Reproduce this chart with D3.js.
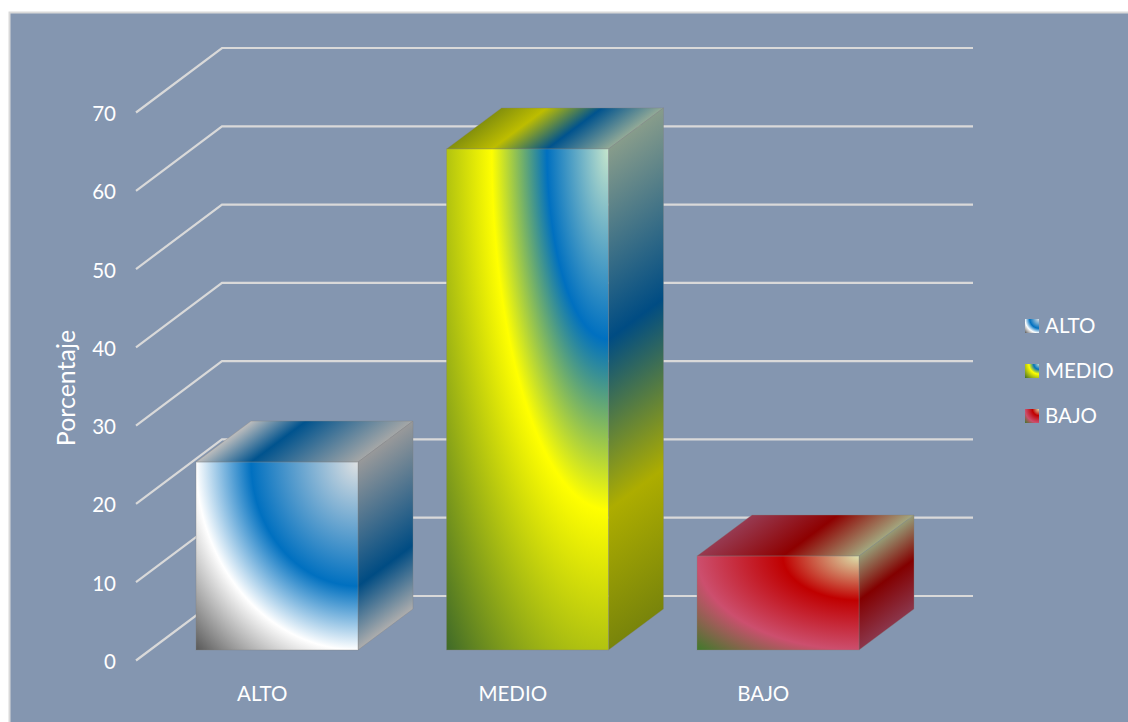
<!DOCTYPE html>
<html lang="es">
<head>
<meta charset="utf-8">
<title>Porcentaje por nivel</title>
<script src="https://cdn.jsdelivr.net/npm/d3@7"></script>
<style>
  html, body { margin: 0; padding: 0; background: #fff; }
  svg { display: block; }
  text { font-family: Lato, "Open Sans", sans-serif; fill: #fff; }
</style>
</head>
<body>
<svg id="chart" width="1128" height="722"></svg>
<script>
// Data
const categories = ["ALTO", "MEDIO", "BAJO"];
const percentages = [24, 64, 12];
const tickValues = [0, 10, 20, 30, 40, 50, 60, 70];
const axisTitle = "Porcentaje";

// Gradient ramps, measured outward from each face's top-right corner
const rampOffsets = [
  [0, 0.66, 1, Math.SQRT2],
  [0, 0.38, 0.72, Math.SQRT2],
  [0, 0.47, 1, Math.SQRT2]
];
const rampColors = [
  ["#dfe1e2", "#0070c0", "#ffffff", "#585858"],
  ["#c6e6cc", "#0070c0", "#ffff00", "#3f6a28"],
  ["#dce2ac", "#c00000", "#cc4f6e", "#3f7a2a"]
];

const width = 1128, height = 722;
const svg = d3.select("#chart");
const defs = svg.append("defs");

// Wall projection: the front edge of the floor sits at the axis, the back wall is offset
const y = d3.scaleLinear().domain([0, 70]).range([660.5, 112.5]);
const x = d3.scaleBand().domain(categories).range([136, 887.5]);
const wallDx = 86, wallDy = -64.5, wallRight = 973;

// Bar box geometry relative to its category band
const barInset = 60, barWidth = 162, floorLift = 10.5, depthDx = 55, depthDy = -41;
const topShade = 0.74, sideShade = 0.68;

const shade = (c, k) => {
  const r = d3.rgb(c);
  return d3.rgb(r.r * k, r.g * k, r.b * k).formatHex();
};

function addStops(grad, i, k, scale) {
  grad.selectAll("stop")
    .data(d3.zip(rampOffsets[i], rampColors[i]))
    .join("stop")
    .attr("offset", d => d[0] / scale)
    .attr("stop-color", d => shade(d[1], k));
}

// Panel
svg.append("rect")
  .attr("x", 9.5).attr("y", 12.5)
  .attr("width", width).attr("height", height)
  .attr("fill", "#8496b0")
  .attr("stroke", "#d9d9d9").attr("stroke-width", 2);

// Gridlines run along the floor side, then across the back wall
svg.append("g").selectAll("path")
  .data(tickValues)
  .join("path")
  .attr("d", v => d3.line()([
    [x.range()[0], y(v)],
    [x.range()[0] + wallDx, y(v) + wallDy],
    [wallRight, y(v) + wallDy]
  ]))
  .attr("fill", "none")
  .attr("stroke", "#d9d9d9")
  .attr("stroke-width", 2.2);

// Bars
const bars = svg.append("g").selectAll("g")
  .data(categories.map((c, i) => ({ c, i, v: percentages[i] })))
  .join("g");

bars.each(function (d) {
  const g = d3.select(this);
  const x0 = x(d.c) + barInset;
  const x1 = x0 + barWidth;
  const yBase = y(0) - floorLift;
  const yTop = y(d.v) - floorLift;
  const h = yBase - yTop;

  // Front: radial ramp in bounding-box units, so it stretches with the bar
  const front = defs.append("radialGradient")
    .attr("id", `front-${d.i}`)
    .attr("cx", 1).attr("cy", 0).attr("fx", 1).attr("fy", 0).attr("r", Math.SQRT2);
  addStops(front, d.i, 1, Math.SQRT2);

  // Top and side: the same ramp, sheared along the depth direction
  const top = defs.append("linearGradient")
    .attr("id", `top-${d.i}`)
    .attr("gradientUnits", "userSpaceOnUse")
    .attr("x1", 0).attr("y1", 0).attr("x2", Math.SQRT2).attr("y2", 0)
    .attr("gradientTransform", `matrix(${-barWidth},0,${depthDx},${depthDy},${x1},${yTop})`);
  addStops(top, d.i, topShade, Math.SQRT2);

  const side = defs.append("linearGradient")
    .attr("id", `side-${d.i}`)
    .attr("gradientUnits", "userSpaceOnUse")
    .attr("x1", 0).attr("y1", 0).attr("x2", Math.SQRT2).attr("y2", 0)
    .attr("gradientTransform", `matrix(0,${h},${depthDx},${depthDy},${x1},${yTop})`);
  addStops(side, d.i, sideShade, Math.SQRT2);

  const poly = pts => d3.line()(pts) + "Z";
  g.append("path")
    .attr("d", poly([[x0, yTop], [x1, yTop], [x1 + depthDx, yTop + depthDy], [x0 + depthDx, yTop + depthDy]]))
    .attr("fill", `url(#top-${d.i})`);
  g.append("path")
    .attr("d", poly([[x1, yTop], [x1 + depthDx, yTop + depthDy], [x1 + depthDx, yBase + depthDy], [x1, yBase]]))
    .attr("fill", `url(#side-${d.i})`);
  g.append("rect")
    .attr("x", x0).attr("y", yTop)
    .attr("width", barWidth).attr("height", h)
    .attr("fill", `url(#front-${d.i})`);
  // Thin soft outline around the box faces
  g.selectAll("path,rect")
    .attr("stroke", "#808080")
    .attr("stroke-opacity", 0.35)
    .attr("stroke-width", 1);
});

// Value axis
const axis = svg.append("g")
  .attr("transform", "translate(116,1.5)")
  .call(d3.axisLeft(y).tickValues(tickValues).tickSize(0).tickPadding(0).tickFormat(d3.format("d")));
axis.select(".domain").remove();
axis.selectAll("text")
  .style("font-family", 'Lato, "Open Sans", sans-serif')
  .style("font-size", "20.5px")
  .attr("fill", "#fff");

svg.append("text")
  .attr("transform", "translate(75,388) rotate(-90)")
  .attr("text-anchor", "middle")
  .style("font-size", "25px")
  .text(axisTitle);

// Category labels
svg.append("g").selectAll("text")
  .data(categories)
  .join("text")
  .attr("x", c => x(c) + x.bandwidth() / 2 + 1)
  .attr("y", 701)
  .attr("text-anchor", "middle")
  .style("font-size", "20.5px")
  .text(c => c);

// Legend
const legendY = d3.scalePoint().domain(categories).range([326, 416]);
const legend = svg.append("g").selectAll("g")
  .data(categories)
  .join("g")
  .attr("transform", c => `translate(1025,${legendY(c)})`);
legend.append("rect")
  .attr("y", -7).attr("width", 14).attr("height", 14)
  .attr("fill", (c, i) => `url(#front-${i})`);
legend.append("text")
  .attr("x", 20).attr("y", 7)
  .style("font-size", "20.5px")
  .text(c => c);
</script>
</body>
</html>
